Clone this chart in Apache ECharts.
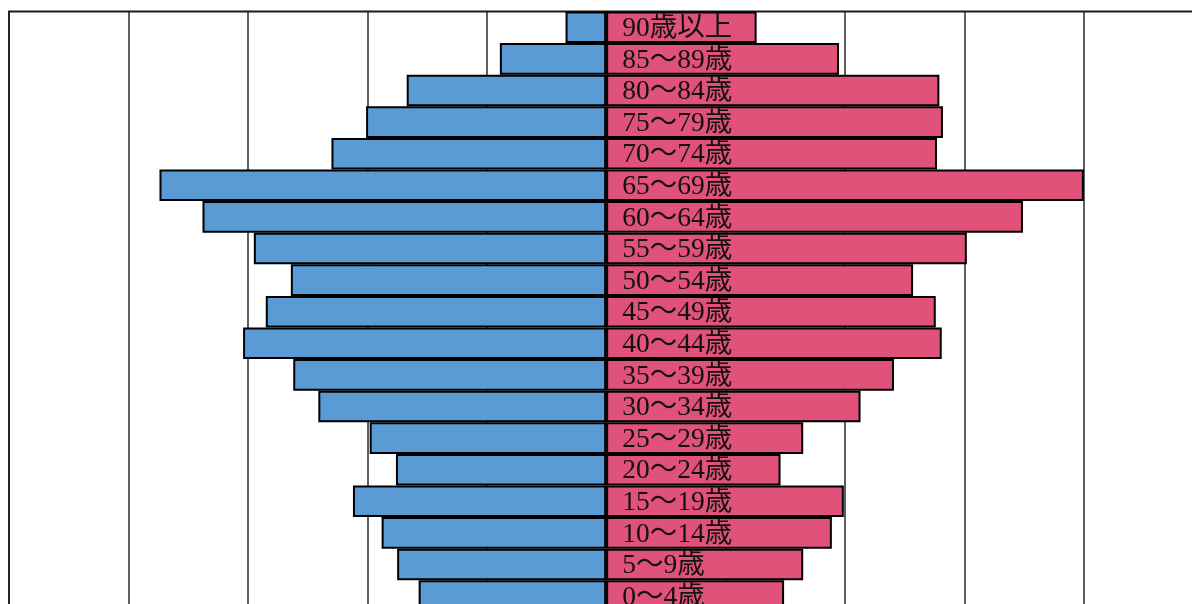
<!DOCTYPE html>
<html>
<head>
<meta charset="utf-8">
<script src="https://cdn.jsdelivr.net/npm/echarts@6/dist/echarts.min.js"></script>
<style>
html,body{margin:0;padding:0;background:#fff;}
#chart{width:1192px;height:604px;}
</style>
</head>
<body>
<div id="chart"></div>
<script>
// Age groups, bottom to top
var ageGroups = ["0～4歳","5～9歳","10～14歳","15～19歳","20～24歳","25～29歳","30～34歳","35～39歳","40～44歳","45～49歳","50～54歳","55～59歳","60～64歳","65～69歳","70～74歳","75～79歳","80～84歳","85～89歳","90歳以上"];
var male   = [157,175,188,212,176,198,241,262,304,285,264,295,338,374,230,201,167,89,34];
var female = [149,165,189,199,146,165,213,241,281,276,257,302,349,400,277,282,279,195,126];

var chart = echarts.init(document.getElementById('chart'));
chart.setOption({
  animation: false,
  grid: {
    left: 9, top: 11.5, width: 1194.3, height: 600.4,
    containLabel: false, outerBoundsMode: 'none',
    show: true, borderColor: '#1a1a1a', borderWidth: 2, backgroundColor: 'transparent'
  },
  xAxis: {
    type: 'value', min: -500, max: 500, interval: 100,
    axisLabel: {show: false}, axisTick: {show: false}, axisLine: {show: false},
    splitLine: {show: true, lineStyle: {color: '#2a2a2a', width: 1.5}}
  },
  yAxis: {
    type: 'category', data: ageGroups,
    axisLabel: {show: false}, axisTick: {show: false}, axisLine: {show: false},
    splitLine: {show: false}
  },
  series: [
    {
      type: 'bar', name: '男', stack: 'p', barCategoryGap: 0,
      data: male.map(function(v){ return -v; }),
      itemStyle: {color: '#5B9BD5', borderColor: '#000', borderWidth: 2}
    },
    {
      type: 'bar', name: '女', stack: 'p', barCategoryGap: 0,
      data: female,
      itemStyle: {color: '#E0527A', borderColor: '#000', borderWidth: 2},
      label: {
        show: true, position: 'insideLeft', distance: 16, offset: [0, 1.5],
        formatter: function(p){ return ageGroups[p.dataIndex]; },
        color: '#111', fontSize: 27.5,
        fontFamily: '"Liberation Serif", "DejaVu Serif", "Noto Sans CJK JP", serif'
      }
    }
  ]
});
</script>
</body>
</html>
